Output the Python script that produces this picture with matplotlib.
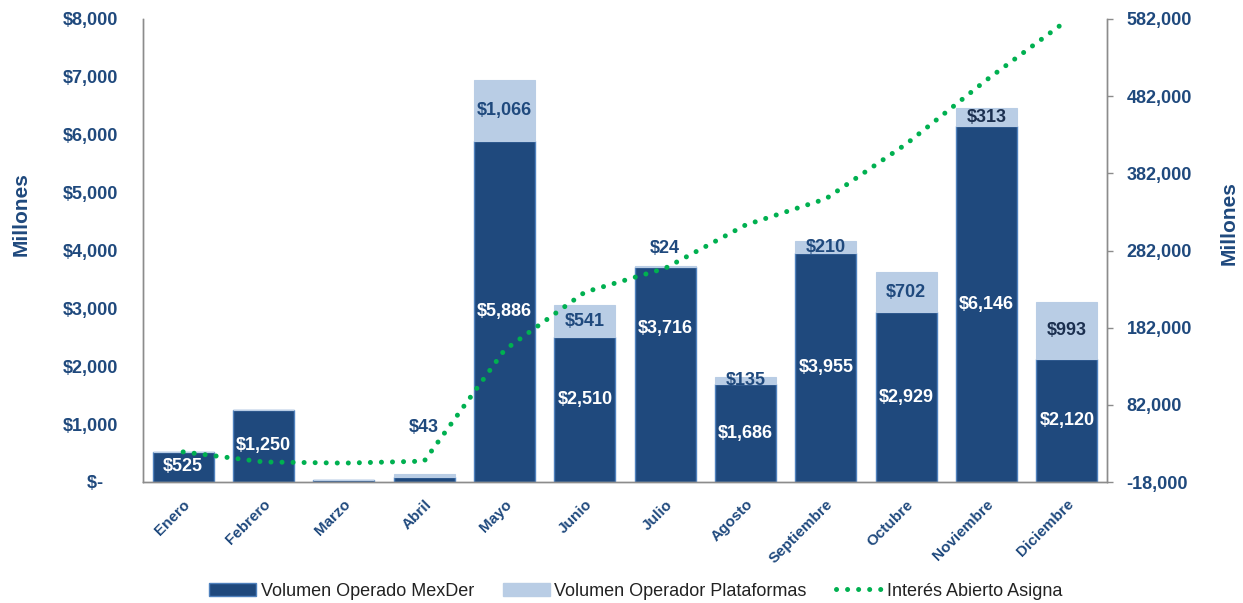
import matplotlib
matplotlib.use("Agg")
import matplotlib.pyplot as plt
from matplotlib.ticker import FuncFormatter, FixedLocator
from matplotlib.patches import Patch
from matplotlib.lines import Line2D

plt.rcParams['font.family'] = ['Liberation Sans', 'DejaVu Sans']

# ---------------- data ----------------
meses = ["Enero", "Febrero", "Marzo", "Abril", "Mayo", "Junio", "Julio",
         "Agosto", "Septiembre", "Octubre", "Noviembre", "Diciembre"]
vol_mexder = [525, 1250, 30, 90, 5886, 2510, 3716, 1686, 3955, 2929, 6146, 2120]
vol_plataformas = [0, 0, 10, 43, 1066, 541, 24, 135, 210, 702, 313, 993]
interes_abierto = [21000, 8000, 6500, 9000, 153000, 228000, 259000,
                   315000, 349000, 420000, 503000, 580000]
left_ticks = [0, 1000, 2000, 3000, 4000, 5000, 6000, 7000, 8000]
right_ticks = [-18000, 82000, 182000, 282000, 382000, 482000, 582000]
label_mexder = [True, True, False, False, True, True, True, True, True, True, True, True]
label_plat = [False, False, False, True, True, True, True, True, True, True, True, True]

# ---------------- style ----------------
DARK = "#1F497D"
LIGHT = "#B9CDE5"
EDGE = "#4F81BD"
GREEN = "#00B050"
TXT = "#1F497D"
DARKTXT = "#1B2F4F"

fig = plt.figure(figsize=(12.43, 6.03), dpi=100)
ax = fig.add_axes([143/1243, 1 - 482/603, (1107-143)/1243, (482-19)/603])
ax2 = ax.twinx()

x = list(range(len(meses)))
w = 0.76
ax.bar(x, vol_mexder, width=w, color=DARK, edgecolor=EDGE, linewidth=1.0, zorder=2)
ax.bar(x, vol_plataformas, width=w, bottom=vol_mexder, color=LIGHT, edgecolor=LIGHT,
       linewidth=0.8, zorder=2)

ax.set_xlim(-0.5, len(meses) - 0.5)
ax.set_ylim(0, 8000)
ax2.set_ylim(-18000, 582000)

# line on secondary axis
ax2.plot(x, interes_abierto, color=GREEN, linewidth=3.6,
         linestyle=(0, (0.01, 2.2)), dash_capstyle='round', zorder=5)

# bar labels
fs = 13
special_mexder_y = {5: 1430, 6: 2650}
special_plat_y = {3: 950, 6: 4040}
dark_label_plat = {10, 11}
for i in x:
    m = vol_mexder[i]
    p = vol_plataformas[i]
    if label_mexder[i]:
        y = special_mexder_y.get(i, m / 2)
        ax.text(i, y, f"${m:,}", ha='center', va='center', color='white',
                fontsize=fs, fontweight='bold', zorder=6)
    if label_plat[i]:
        y = special_plat_y.get(i, m + p / 2)
        ax.text(i, y, f"${p:,}", ha='center', va='center',
                color=DARKTXT if i in dark_label_plat else TXT,
                fontsize=fs, fontweight='bold', zorder=6)

# axes styling
for a in (ax, ax2):
    a.spines['top'].set_visible(False)
    for s in ('left', 'right', 'bottom'):
        a.spines[s].set_color('#8C8C8C')
        a.spines[s].set_linewidth(1.0)

ax.yaxis.set_major_locator(FixedLocator(left_ticks))
ax.yaxis.set_major_formatter(FuncFormatter(lambda v, _: "$-   " if v == 0 else f"${v:,.0f}"))
ax.tick_params(axis='y', length=0, pad=18, labelsize=13, labelcolor=TXT)
for t in ax.get_yticklabels():
    t.set_fontweight('bold')

ax2.yaxis.set_major_locator(FixedLocator(right_ticks))
ax2.yaxis.set_major_formatter(FuncFormatter(lambda v, _: f"{v:,.0f}"))
ax2.tick_params(axis='y', length=4, width=1, color='#8C8C8C', pad=10,
                labelsize=13, labelcolor=TXT)
for t in ax2.get_yticklabels():
    t.set_fontweight('bold')

ax.set_xticks(x)
ax.set_xticklabels(meses, rotation=45, ha='right', rotation_mode='anchor',
                   fontsize=11, fontweight='bold', color=TXT)
ax.tick_params(axis='x', length=0, pad=11)

fig.text(21/1243, 1 - 214/603, "Millones", rotation=90, ha='center', va='center',
         fontsize=15, fontweight='bold', color=TXT)
fig.text(1229/1243, 1 - 223/603, "Millones", rotation=90, ha='center', va='center',
         fontsize=15, fontweight='bold', color=TXT)

handles = [
    Patch(facecolor=DARK, edgecolor=EDGE, linewidth=1.0, label="Volumen Operado MexDer"),
    Patch(facecolor=LIGHT, edgecolor=LIGHT, label="Volumen Operador Plataformas"),
    Line2D([0], [0], color=GREEN, linewidth=3.6, linestyle=(0, (0.01, 2.2)),
           dash_capstyle='round', label="Interés Abierto Asigna"),
]
leg = fig.legend(handles=handles, loc='center', bbox_to_anchor=(636/1243, 1 - 591/603),
                 ncol=3, frameon=False, fontsize=13, handlelength=2.6,
                 handleheight=0.7, handletextpad=0.25, columnspacing=1.6,
                 borderaxespad=0)
for t in leg.get_texts():
    t.set_color('#222222')

fig.savefig("out.png", dpi=100)
